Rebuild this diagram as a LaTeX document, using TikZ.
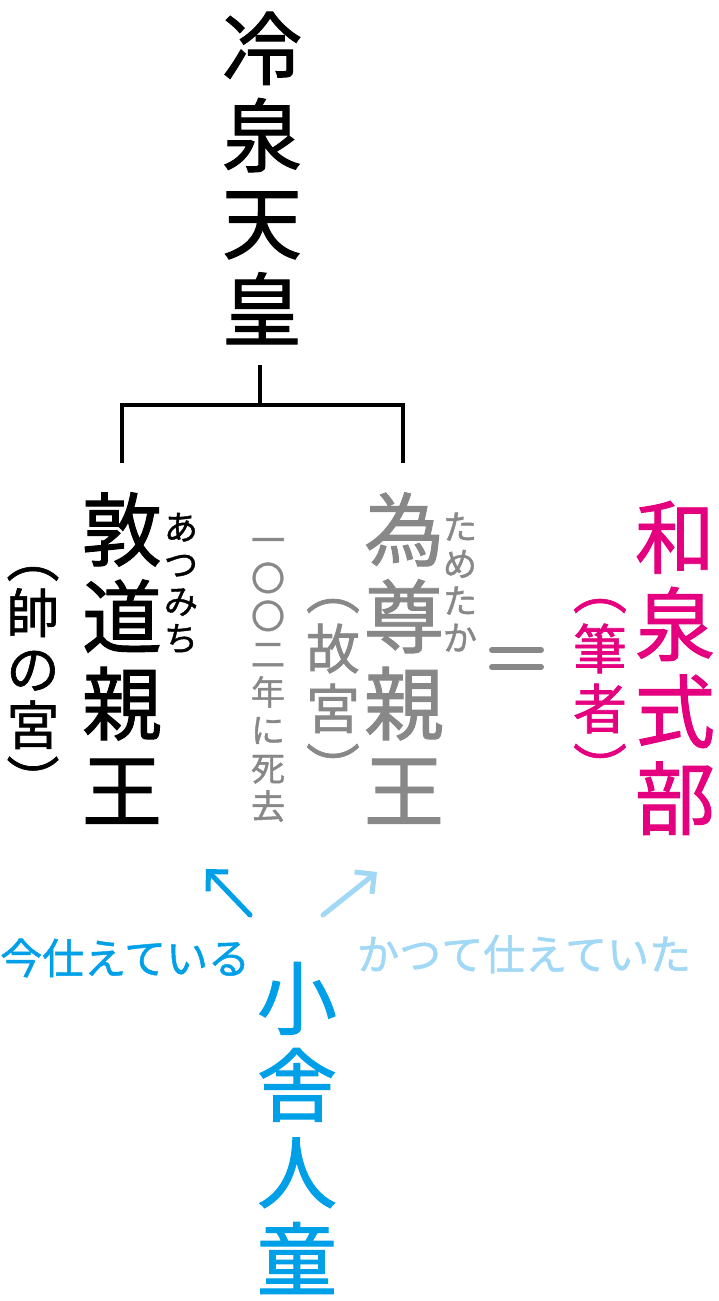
\documentclass[tikz,border=0pt]{standalone}
\usepackage{fontspec}
\setmainfont{Noto Sans CJK JP}[FakeBold=1.2]
\usetikzlibrary{arrows.meta}
\definecolor{mag}{HTML}{E4007F}
\definecolor{grayt}{HTML}{888888}
\definecolor{blue1}{HTML}{00A0E9}
\definecolor{blue2}{HTML}{A0D8F5}
\begin{document}
\begin{tikzpicture}[x=1pt,y=-1pt,
  every node/.style={inner sep=0pt, align=center},
  big/.style={font=\fontsize{80}{87}\selectfont},
  mid/.style={font=\fontsize{53}{56}\selectfont},
  midp/.style={font=\fontsize{54}{60}\selectfont},
  small/.style={font=\fontsize{34}{38}\selectfont},
  rubyf/.style={font=\fontsize{34}{37}\selectfont},
  lbl/.style={font=\fontsize{42}{44}\selectfont},
  tree/.style={line width=4pt},
  arr/.style={line width=5pt, line cap=round, -{Straight Barb[length=14pt,width=28pt,line width=5pt]}}]
\useasboundingbox (0,0) rectangle (719,1301);
% top
\node[big] (reizei) at (262,178) {冷\\泉\\天\\皇};
% tree
\coordinate (t0) at (260,365);
\coordinate (j) at (260,405);
\coordinate (a1) at (122,463);
\coordinate (b1) at (403,463);
\draw[tree] (t0) -- (j);
\draw[tree] (a1) |- (j) -| (b1);
% Atsumichi
\node[big] (atsu) at (122,658) {敦\\道\\親\\王};
\node[rubyf] (atsur) at (181,583) {あ\\つ\\み\\ち};
\node[mid] (sochi) at (33,684) {︵\\帥\\の\\宮\\︶};
% Tametaka
\node[small, grayt] (death) at (268,680) {一\\〇\\〇\\二\\年\\に\\死\\去};
\node[big, grayt] (tame) at (404,658) {為\\尊\\親\\王};
\node[rubyf, grayt] (tamer) at (460,582) {た\\め\\た\\か};
\node[midp, grayt] (kou) at (333,694) {︵\\故\\宮\\︶};
\coordinate (e1) at (492,650);
\coordinate (e2) at (541,650);
\coordinate (e3) at (492,667);
\coordinate (e4) at (541,667);
\draw[grayt, line width=6pt, line cap=round] (e1) -- (e2) (e3) -- (e4);
% Izumi
\node[big, mag] (izumi) at (675,668) {和\\泉\\式\\部};
\node[midp, mag] (hissha) at (600,694) {︵\\筆\\者\\︶};
% arrows
\coordinate (k1) at (250,915);
\coordinate (k2) at (206,869);
\coordinate (k3) at (323,915);
\coordinate (k4) at (377,872);
\draw[arr, blue1] (k1) -- (k2);
\draw[arr, blue2] (k3) -- (k4);
\node[lbl, blue1, anchor=west] (now) at (0,958) {今仕えている};
\node[lbl, blue2, anchor=west] (past) at (357,954) {かつて仕えていた};
\node[big, blue1] (kodo) at (297,1128) {小\\舎\\人\\童};
\end{tikzpicture}
\end{document}
